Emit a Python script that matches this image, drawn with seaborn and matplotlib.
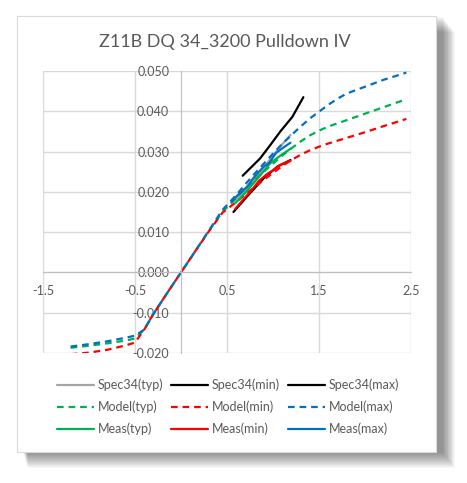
import numpy as np
import pandas as pd
import seaborn as sns
import matplotlib.pyplot as plt
from matplotlib.patches import Rectangle
from matplotlib.lines import Line2D

# --- data ---
model_x = [-1.2, -1.0, -0.8, -0.6, -0.5, -0.4, -0.3, -0.15, 0.0, 0.15, 0.3, 0.45,
           0.6, 0.7, 0.8, 0.9, 1.0, 1.1, 1.2, 1.3, 1.4, 1.5, 1.6, 1.7, 1.8, 2.0, 2.2, 2.45]
model_typ = [-0.0187, -0.0182, -0.0176, -0.0169, -0.0164, -0.0142, -0.0103, -0.0051, 0.0,
             0.0051, 0.0102, 0.0150, 0.0185, 0.0208, 0.0230, 0.0250, 0.0270, 0.0290, 0.0308,
             0.0325, 0.0340, 0.0352, 0.0362, 0.0370, 0.0378, 0.0394, 0.0410, 0.0430]
model_min = [-0.0203, -0.0199, -0.0192, -0.0181, -0.0174, -0.0142, -0.0103, -0.0051, 0.0,
             0.0051, 0.0101, 0.0148, 0.0175, 0.0194, 0.0212, 0.0230, 0.0247, 0.0264, 0.0279,
             0.0292, 0.0303, 0.0312, 0.0320, 0.0327, 0.0334, 0.0348, 0.0363, 0.0381]
model_max = [-0.0184, -0.0178, -0.0171, -0.0162, -0.0157, -0.0142, -0.0103, -0.0051, 0.0,
             0.0051, 0.0103, 0.0155, 0.0192, 0.0219, 0.0245, 0.0270, 0.0295, 0.0319, 0.0341,
             0.0362, 0.0382, 0.0399, 0.0416, 0.0431, 0.0444, 0.0461, 0.0478, 0.0496]

spec_typ_x = [0.57, 0.7, 0.85, 1.0, 1.1, 1.19]
spec_typ = [0.0176, 0.0205, 0.0245, 0.0290, 0.0318, 0.0341]
spec_min_x = [0.57, 0.72, 0.90, 1.05, 1.19]
spec_min = [0.0150, 0.0189, 0.0234, 0.0263, 0.0279]
spec_max_x = [0.67, 0.86, 0.97, 1.08, 1.21, 1.33]
spec_max = [0.0240, 0.0283, 0.0316, 0.0350, 0.0386, 0.0435]

meas_typ_x = [0.59, 0.7, 0.79, 0.88, 0.97, 1.08, 1.19]
meas_typ = [0.0172, 0.0198, 0.0222, 0.0246, 0.0271, 0.0290, 0.0307]
meas_min_x = [0.59, 0.68, 0.77, 0.85, 0.94, 1.01, 1.08, 1.19]
meas_min = [0.0158, 0.0182, 0.0205, 0.0228, 0.0245, 0.0255, 0.0267, 0.0277]
meas_max_x = [0.55, 0.63, 0.72, 0.80, 0.90, 0.96, 1.03, 1.10, 1.19]
meas_max = [0.0176, 0.0195, 0.0213, 0.0238, 0.0263, 0.0272, 0.0296, 0.0308, 0.0322]

x_ticks = [-1.5, -0.5, 0.5, 1.5, 2.5]
y_ticks = [-0.02, -0.01, 0.0, 0.01, 0.02, 0.03, 0.04, 0.05]

GREEN = "#00B050"
RED = "#FF0000"
BLUE = "#0070C0"
GRAY = "#A5A5A5"
TXT = "#595959"

sns.set_style("white")
plt.rcParams["font.family"] = ["Lato", "DejaVu Sans"]

fig = plt.figure(figsize=(4.67, 4.83), dpi=100)
fig.patch.set_facecolor("white")

# chart frame with soft drop shadow
W, H = 467, 483
fx0, fy0, fx1, fy1 = 17, 16, 436, 452
for i in range(16, 0, -1):
    fig.patches.append(Rectangle(((fx0 + 6 + i * 0.3) / W, 1 - (fy1 + i) / H),
                                 (fx1 - fx0 + i * 0.5) / W, (fy1 - fy0) / H,
                                 transform=fig.transFigure, facecolor="black",
                                 edgecolor="none", alpha=0.03, zorder=0))
fig.patches.append(Rectangle((fx0 / W, 1 - fy1 / H), (fx1 - fx0) / W, (fy1 - fy0) / H,
                             transform=fig.transFigure, facecolor="white",
                             edgecolor="#D9D9D9", linewidth=0.8, zorder=1))

ax = fig.add_axes([43 / W, 1 - 353 / H, (411 - 43) / W, (353 - 71) / H])
ax.set_zorder(2)
ax.patch.set_alpha(0)

lw = 1.6
dash = (3, 2.2)
series = [
    (spec_typ_x, spec_typ, GRAY, "-", "Spec34(typ)"),
    (spec_min_x, spec_min, "black", "-", "Spec34(min)"),
    (spec_max_x, spec_max, "black", "-", "Spec34(max)"),
    (model_x, model_typ, GREEN, "--", "Model(typ)"),
    (model_x, model_min, RED, "--", "Model(min)"),
    (model_x, model_max, BLUE, "--", "Model(max)"),
    (meas_typ_x, meas_typ, GREEN, "-", "Meas(typ)"),
    (meas_min_x, meas_min, RED, "-", "Meas(min)"),
    (meas_max_x, meas_max, BLUE, "-", "Meas(max)"),
]
handles = {}
for xs, ys, c, ls, name in series:
    sns.lineplot(x=xs, y=ys, ax=ax, color=c, linewidth=lw, sort=False)
    line = ax.get_lines()[-1]
    line.set_solid_joinstyle("round")
    if ls == "--":
        line.set_dashes(dash)
    handles[name] = Line2D([], [], color=c, linewidth=lw,
                           dashes=dash if ls == "--" else (None, None))

ax.set_xlim(-1.5, 2.5)
ax.set_ylim(-0.02, 0.05)
ax.set_xticks(x_ticks)
ax.set_yticks(y_ticks)
ax.set_xticklabels([f"{v:g}" for v in x_ticks])
ax.set_yticklabels([f"{v:.3f}" for v in y_ticks])
ax.grid(True, color="#D9D9D9", linewidth=1)
ax.set_axisbelow(True)

for s in ["top", "right"]:
    ax.spines[s].set_visible(False)
ax.spines["left"].set_position(("data", 0))
ax.spines["bottom"].set_position(("data", 0))
ax.spines["left"].set_color("#BFBFBF")
ax.spines["bottom"].set_color("#BFBFBF")
ax.tick_params(axis="both", colors="#BFBFBF", labelcolor=TXT, labelsize=9, length=0)
ax.tick_params(axis="x", pad=9)
ax.tick_params(axis="y", direction="inout", length=5, pad=6)

fig.text(225 / W, 1 - 42 / H, "Z11B DQ 34_3200 Pulldown IV", ha="center", va="center",
         fontsize=13, color=TXT)

order = ["Spec34(typ)", "Model(typ)", "Meas(typ)",
         "Spec34(min)", "Model(min)", "Meas(min)",
         "Spec34(max)", "Model(max)", "Meas(max)"]
leg = fig.legend([handles[k] for k in order], order, ncol=3, loc="center",
                 bbox_to_anchor=(228 / W, 1 - 407 / H), frameon=False, fontsize=9,
                 handlelength=3.0, handletextpad=0.3, columnspacing=0.6,
                 labelspacing=0.75)
for t in leg.get_texts():
    t.set_color(TXT)

fig.savefig("out.png", dpi=100)
